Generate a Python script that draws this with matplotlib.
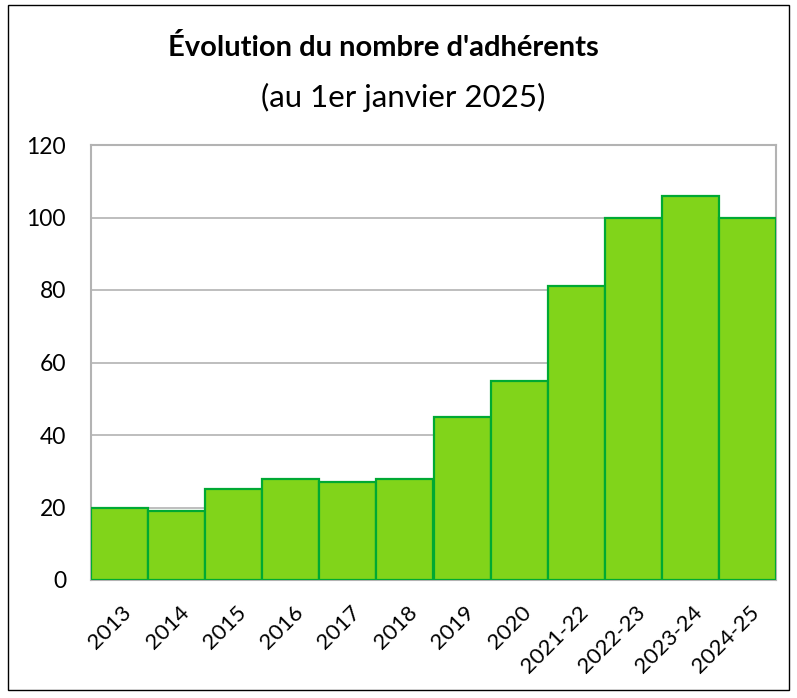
import matplotlib
matplotlib.use("Agg")
import matplotlib.pyplot as plt
from matplotlib.patches import Rectangle
import matplotlib.transforms as mtransforms

categories = ["2013", "2014", "2015", "2016", "2017", "2018", "2019", "2020",
              "2021-22", "2022-23", "2023-24", "2024-25"]
values = [20, 19, 25, 28, 27, 28, 45, 55, 81, 100, 106, 100]
yticks = [0, 20, 40, 60, 80, 100, 120]

plt.rcParams['font.family'] = ['Lato', 'DejaVu Sans']

W, H = 797, 698
fig = plt.figure(figsize=(W / 100, H / 100), dpi=100)
ax = fig.add_axes([91 / W, 1 - 580 / H, (776 - 91) / W, (580 - 145) / H])

x = list(range(len(categories)))
ax.bar(x, values, width=1.0, color="#81D41A", edgecolor="#00A933",
       linewidth=1.6, zorder=3)
ax.set_xlim(-0.5, len(categories) - 0.5)
ax.set_ylim(0, 120)
ax.set_yticks(yticks)
ax.set_yticklabels([str(v) for v in yticks], fontsize=16.5)
ax.set_xticks(x)
ax.set_xticklabels(categories, rotation=45, ha="right", va="top",
                   rotation_mode="anchor", fontsize=16)
ax.tick_params(axis="y", length=0, pad=18)
ax.tick_params(axis="x", length=0, pad=16)
offset = mtransforms.ScaledTranslation(2 / 100, 0, fig.dpi_scale_trans)
for lab in ax.get_xticklabels():
    lab.set_transform(lab.get_transform() + offset)
ax.grid(axis="y", color="#B3B3B3", linewidth=1.2, zorder=0)
for s in ax.spines.values():
    s.set_color("#B3B3B3")
    s.set_linewidth(1.5)

fig.text(383 / W, 1 - 47 / H, "Évolution du nombre d'adhérents",
         ha="center", va="center", fontsize=21, fontweight="bold")
fig.text(403 / W, 1 - 97 / H, "(au 1er janvier 2025)",
         ha="center", va="center", fontsize=22.5)

fig.patches.append(Rectangle((8 / W, 1 - 690 / H), (789 - 8) / W, (690 - 5) / H,
                             transform=fig.transFigure, fill=False,
                             edgecolor="black", linewidth=1.0))

fig.savefig("out.png", dpi=100)
